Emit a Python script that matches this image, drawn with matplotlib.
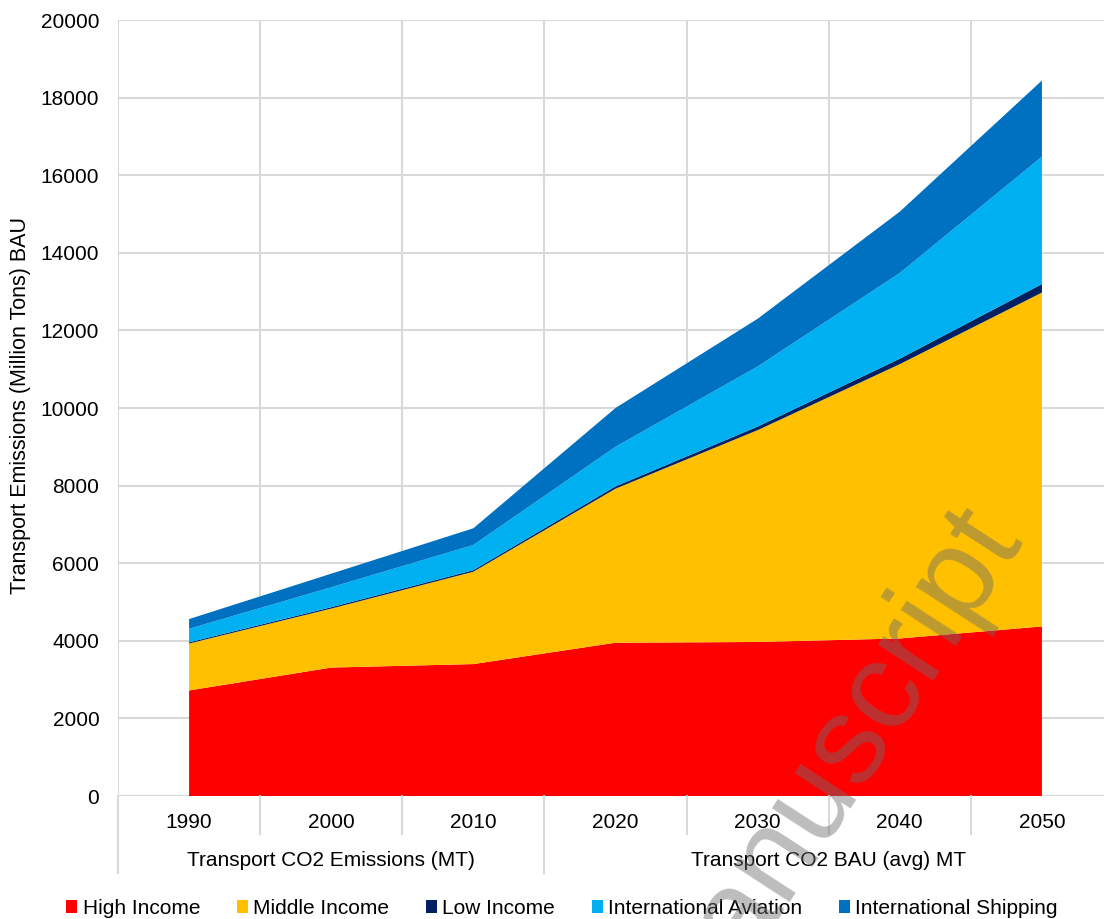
import matplotlib
matplotlib.use("Agg")
import matplotlib.pyplot as plt
import matplotlib.transforms as mtransforms
from matplotlib.patches import Patch
import numpy as np

plt.rcParams['font.family'] = ['Liberation Sans', 'DejaVu Sans']

# ---- data (Million Tons) ----
years = ["1990", "2000", "2010", "2020", "2030", "2040", "2050"]
group_labels = ["Transport CO2 Emissions (MT)", "Transport CO2 BAU (avg) MT"]
group_sizes = [3, 4]
series_names = ["High Income", "Middle Income", "Low Income",
                "International Aviation", "International Shipping"]
high_income = [2720, 3310, 3400, 3950, 3970, 4060, 4370]
middle_income = [1210, 1520, 2380, 3970, 5460, 7070, 8605]
low_income = [30, 35, 40, 60, 90, 140, 220]
intl_aviation = [350, 515, 650, 1020, 1550, 2210, 3285]
intl_shipping = [250, 350, 430, 1000, 1230, 1580, 1960]
colors = ["#FF0000", "#FFC000", "#002060", "#00B0F0", "#0070C0"]
y_label = "Transport Emissions (Million Tons) BAU"
watermark = "manuscript"

W, H = 1104, 919
fig = plt.figure(figsize=(W / 100, H / 100), dpi=100)
left_px, right_px, top_px, bottom_px = 118, 1113, 20, 796
ax = fig.add_axes([left_px / W, 1 - bottom_px / H,
                   (right_px - left_px) / W, (bottom_px - top_px) / H])

x = np.arange(len(years))
ax.stackplot(x, high_income, middle_income, low_income, intl_aviation,
             intl_shipping, colors=colors, linewidth=0, zorder=2)

grid_c = "#D9D9D9"
ax.set_xlim(-0.5, len(years) - 0.5)
ax.set_ylim(0, 20000)
ax.set_yticks(np.arange(0, 20001, 2000))
ax.yaxis.grid(True, color=grid_c, linewidth=1.5, zorder=0)
ax.set_axisbelow(True)
bounds = np.arange(-0.5, len(years), 1.0)
for b in bounds:
    ax.axvline(b, color=grid_c, linewidth=1.5, zorder=0)
for s in ax.spines.values():
    s.set_visible(False)
ax.axhline(0, color=grid_c, linewidth=1.5, zorder=1)

ax.tick_params(axis='y', length=0, pad=13.5, labelsize=15, labelcolor='black')
ax.set_xticks(x)
ax.set_xticklabels(years)
ax.tick_params(axis='x', length=0, pad=12.5, labelsize=15, labelcolor='black')

# category separator ticks below the axis
trans = mtransforms.blended_transform_factory(ax.transData, ax.transAxes)
axh = bottom_px - top_px
short = 38 / axh
long_ = 77 / axh
group_edges = [-0.5]
for g in group_sizes:
    group_edges.append(group_edges[-1] + g)
for b in bounds:
    length = long_ if b in group_edges else short
    ax.plot([b, b], [0, -length], transform=trans, color=grid_c,
            linewidth=1.5, clip_on=False)
# group labels
for i, lab in enumerate(group_labels):
    cx = (group_edges[i] + group_edges[i + 1]) / 2
    ax.text(cx, -(860 - bottom_px) / axh, lab, transform=trans, ha='center',
            va='center', fontsize=15, color='black')

fig.text(21 / W, 1 - 406 / H, y_label, rotation=90, ha='center', va='center',
         fontsize=15.5, color='black')

handles = [Patch(facecolor=c, edgecolor='none') for c in colors]
fig.legend(handles, series_names, loc='center', bbox_to_anchor=(0.509, 1 - 908.5 / H),
           ncol=5, frameon=False, fontsize=15, handlelength=0.55,
           handleheight=0.55, handletextpad=0.25, columnspacing=1.75,
           borderpad=0, borderaxespad=0)

fig.text(828 / W, 1 - 773 / H, watermark, rotation=57, rotation_mode='anchor',
         ha='center', va='center', fontsize=90, color='#6D6D6D', alpha=0.45,
         zorder=10)

fig.savefig("out.png", dpi=100)
